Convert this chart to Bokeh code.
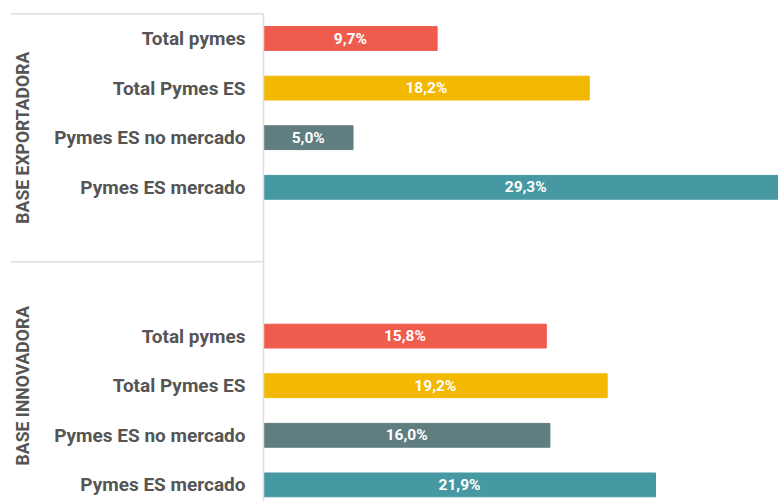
import math
from bokeh.plotting import figure
from bokeh.models import ColumnDataSource, Range1d
from bokeh.core.properties import value
from bokeh.embed import file_html
from bokeh.resources import INLINE

groups = ["BASE EXPORTADORA", "BASE INNOVADORA"]
categories = ["Total pymes", "Total Pymes ES", "Pymes ES no mercado", "Pymes ES mercado"]
colors = ["#EF5C4E", "#F3B800", "#607D80", "#4699A3"]
values_export = [9.7, 18.2, 5.0, 29.3]
values_innov = [15.8, 19.2, 16.0, 21.9]
group_values = [values_export, values_innov]

GAP = 2  # empty slots between groups
STEP = len(categories) + GAP
ys, vals, cats, cols, labels = [], [], [], [], []
for gi, gv in enumerate(group_values):
    base = gi * STEP
    for ci, v in enumerate(gv):
        ys.append(base + ci)
        vals.append(v)
        cats.append(categories[ci])
        cols.append(colors[ci])
        labels.append(f"{v:.1f}%".replace(".", ","))

src = ColumnDataSource(dict(y=ys, v=vals, half=[v / 2 for v in vals], cat=cats, col=cols, lab=labels))

PX = 17.9    # px per unit on x
SLOT = 49.6  # px per slot on y
W, H = 778, 501
axis_px = 263  # position of zero from figure left
first_px = 38  # center of first bar from figure top
x0 = -axis_px / PX
x1 = (W - axis_px) / PX
y_top = -first_px / SLOT
y_bot = (H - first_px) / SLOT

p = figure(width=W, height=H, output_backend="svg", toolbar_location=None,
           x_range=Range1d(x0, x1), y_range=Range1d(y_bot, y_top),
           min_border=0, min_border_left=0, min_border_right=0,
           min_border_top=0, min_border_bottom=0)
p.axis.visible = False
p.grid.visible = False
p.outline_line_color = None
p.background_fill_color = "white"
p.border_fill_color = "white"

p.hbar(y="y", left=0, right="v", height=0.48, color="col", source=src)

p.text(x="half", y="y", text="lab", source=src, text_align="center", text_baseline="middle",
       text_color="white", text_font=value("Roboto"), text_font_style="bold", text_font_size="15.5px")

p.text(x=-18 / PX, y="y", text="cat", source=src, text_align="right", text_baseline="middle",
       text_color="#555555", text_font=value("Roboto"), text_font_style="bold", text_font_size="19px")

# group label centred on its band (first band has trailing half gap, second leading half gap)
gx = [-(axis_px - 22) / PX] * len(groups)
gy = [gi * (STEP - 1) + len(categories) / 2 for gi in range(len(groups))]
p.text(x=gx, y=gy, text=groups, angle=math.pi / 2, text_align="center", text_baseline="middle",
       text_color="#555555", text_font=value("Roboto"), text_font_style="bold", text_font_size="17.6px")

# frame lines
line_x0 = -(axis_px - 10) / PX
sep_y = [-0.5, len(categories) + GAP / 2 - 0.5]
p.segment(x0=[line_x0] * 2, y0=sep_y, x1=[0] * 2, y1=sep_y, line_color="#DDDDDD", line_width=1.5)
p.segment(x0=[0], y0=[-0.5], x1=[0], y1=[y_bot], line_color="#DDDDDD", line_width=1.5)

open("out.html", "w").write(file_html(p, INLINE))
